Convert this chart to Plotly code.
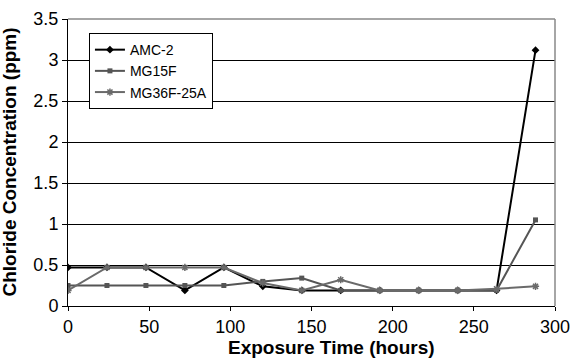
import plotly.graph_objects as go

hours = [0, 24, 48, 72, 96, 120, 144, 168, 192, 216, 240, 264, 288]
amc2 = [0.47, 0.47, 0.47, 0.19, 0.47, 0.24, 0.19, 0.19, 0.19, 0.19, 0.19, 0.19, 3.12]
mg15f = [0.25, 0.25, 0.25, 0.25, 0.25, 0.30, 0.34, 0.19, 0.19, 0.19, 0.19, 0.19, 1.05]
mg36f = [0.19, 0.47, 0.47, 0.47, 0.47, 0.28, 0.19, 0.32, 0.19, 0.19, 0.19, 0.21, 0.24]
x_ticks = [0, 50, 100, 150, 200, 250, 300]
y_ticks = [0, 0.5, 1, 1.5, 2, 2.5, 3, 3.5]
y_tick_text = ["0", "0.5", "1", "1.5", "2", "2.5", "3", "3.5"]

fig = go.Figure()
fig.add_trace(go.Scatter(x=hours, y=amc2, name="AMC-2", mode="lines+markers",
                         line=dict(color="#000000", width=2),
                         marker=dict(symbol="diamond", size=6, color="#000000")))
fig.add_trace(go.Scatter(x=hours, y=mg15f, name="MG15F", mode="lines+markers",
                         line=dict(color="#555555", width=2),
                         marker=dict(symbol="square", size=5, color="#555555")))
fig.add_trace(go.Scatter(x=hours, y=mg36f, name="MG36F-25A", mode="lines+markers",
                         line=dict(color="#6a6a6a", width=2),
                         marker=dict(symbol="asterisk-open", size=6,
                                     line=dict(color="#6a6a6a", width=1.5))))

font = "Liberation Sans, Arial, sans-serif"
fig.update_layout(
    width=574, height=358,
    margin=dict(l=68, r=19, t=19, b=52),
    paper_bgcolor="white", plot_bgcolor="white",
    font=dict(family=font, size=18, color="#000000"),
    showlegend=True,
    legend=dict(x=0.043, y=0.951, xanchor="left", yanchor="top",
                bgcolor="white", bordercolor="#000000", borderwidth=1,
                font=dict(size=14, family=font), tracegroupgap=0,
                itemwidth=30),
    xaxis=dict(range=[0, 300], tickvals=x_ticks, automargin=False,
               showgrid=False, zeroline=False, showline=True, linecolor="#000000",
               linewidth=1, ticks="outside", ticklen=4, tickcolor="#000000",
               tickfont=dict(size=18)),
    yaxis=dict(range=[0, 3.5], tickvals=y_ticks, ticktext=y_tick_text, automargin=False,
               showgrid=True, gridcolor="#000000", gridwidth=1, zeroline=False,
               showline=True, linecolor="#000000", linewidth=1,
               ticks="outside", ticklen=5, tickcolor="#000000",
               tickfont=dict(size=18)),
    annotations=[
        dict(text="<b>Exposure Time (hours)</b>", xref="paper", yref="paper",
             x=0.542, y=-0.146, xanchor="center", yanchor="middle",
             showarrow=False, font=dict(size=19, family=font)),
        dict(text="<b>Chloride Concentration (ppm)</b>", xref="paper", yref="paper",
             x=-0.121, y=0.5, xanchor="center", yanchor="middle", textangle=-90,
             showarrow=False, font=dict(size=19, family=font)),
    ],
    shapes=[
        dict(type="line", xref="paper", yref="paper", x0=0, x1=1, y0=1, y1=1,
             line=dict(color="#888888", width=1.5)),
        dict(type="line", xref="paper", yref="paper", x0=1, x1=1, y0=0, y1=1,
             line=dict(color="#888888", width=1.5)),
    ],
)

fig.write_html("out.html", config={"displayModeBar": False},
               post_script="document.body.style.margin='0';document.body.style.overflow='hidden';")
